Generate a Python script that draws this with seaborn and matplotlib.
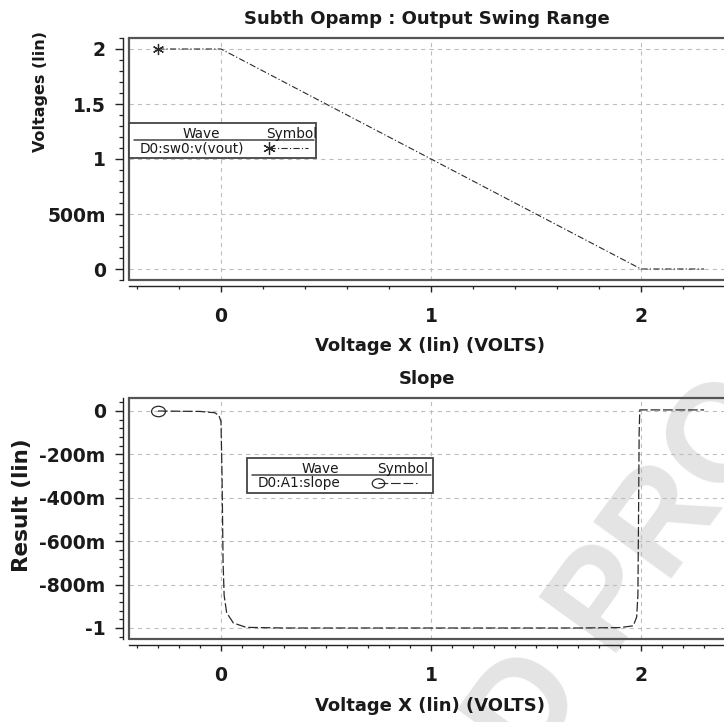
import numpy as np
import pandas as pd
import matplotlib
matplotlib.use("Agg")
import matplotlib.pyplot as plt
import matplotlib.transforms as mtransforms
from matplotlib.path import Path
from matplotlib.lines import Line2D
from matplotlib.patches import Rectangle
from matplotlib.ticker import MultipleLocator
import seaborn as sns

# ---------------- data ----------------
vout_x = [-0.3, 0.0, 2.0, 2.3]
vout_y = [2.0, 2.0, 0.0, 0.0]

slope_x = [-0.3, -0.1, -0.03, -0.01, 0.0, 0.005, 0.01, 0.015, 0.027, 0.059, 0.12, 0.3,
           1.7, 1.9, 1.963, 1.979, 1.985, 1.988, 1.991, 1.994, 2.1, 2.3]
slope_y = [0.0, -0.002, -0.008, -0.02, -0.05, -0.3, -0.7, -0.85, -0.93, -0.977, -0.997, -1.0,
           -1.0, -0.998, -0.99, -0.95, -0.85, -0.5, -0.1, 0.005, 0.005, 0.005]

x_ticks = [0, 1, 2]
x_tick_labels = ["0", "1", "2"]
top_yticks = [0, 0.5, 1, 1.5, 2]
top_ylabels = ["0", "500m", "1", "1.5", "2"]
bot_yticks = [-1, -0.8, -0.6, -0.4, -0.2, 0]
bot_ylabels = ["-1", "-800m", "-600m", "-400m", "-200m", "0"]

top_title = "Subth Opamp : Output Swing Range"
bot_title = "Slope"
x_label = "Voltage X (lin) (VOLTS)"
top_ylabel = "Voltages (lin)"
bot_ylabel = "Result (lin)"
top_wave = "D0:sw0:v(vout)"
bot_wave = "D0:A1:slope"

df_top = pd.DataFrame({"x": vout_x, "y": vout_y})
df_bot = pd.DataFrame({"x": slope_x, "y": slope_y})

# ---------------- style ----------------
sns.set_theme(style="white")
plt.rcParams["font.family"] = ["DejaVu Sans"]
plt.rcParams["lines.scale_dashes"] = False

W, H = 724, 722
fig = plt.figure(figsize=(W / 100, H / 100), dpi=100)
fig.patch.set_facecolor("white")


def fr(l, t, r, b):
    return [l / W, 1 - b / H, (r - l) / W, (b - t) / H]


ax1 = fig.add_axes(fr(129, 38, 724, 280))
ax2 = fig.add_axes(fr(129, 398, 724, 639))

DASHDOT = (0, (4.5, 1.6, 0.9, 1.6))
DASHED = (0, (7, 2))
LC = "#2a2a2a"
TC = "#1a1a1a"
ell = Path.unit_circle().transformed(mtransforms.Affine2D().scale(1, 0.75))

sns.lineplot(data=df_top, x="x", y="y", ax=ax1, color=LC, lw=0.8, linestyle=DASHDOT,
             marker=(6, 2, 0), markevery=[0], markersize=8, markeredgecolor=LC,
             markeredgewidth=0.9, markerfacecolor="none", errorbar=None)
sns.lineplot(data=df_bot, x="x", y="y", ax=ax2, color=LC, lw=0.9, linestyle=DASHED,
             marker=ell, markevery=[0], markersize=10, markeredgecolor=LC,
             markeredgewidth=0.9, markerfacecolor="none", errorbar=None)


def style(ax, ylim, yt, yl, xminor, yminor, title, ylabel, ylab_size, ylab_xy, xlab_xy):
    ax.set_facecolor("none")
    ax.set_xlim(-0.438, 2.395)
    ax.set_ylim(*ylim)
    ax.set_xticks(x_ticks, x_tick_labels)
    ax.set_yticks(yt, yl)
    ax.xaxis.set_minor_locator(MultipleLocator(xminor))
    ax.yaxis.set_minor_locator(MultipleLocator(yminor))
    ax.grid(True, which="major", color="#bdbdbd", lw=0.8, ls=(0, (3, 3)))
    for s in ["left", "bottom"]:
        ax.spines[s].set_position(("outward", 4))
        ax.spines[s].set_color("#222222")
        ax.spines[s].set_linewidth(1.0)
    ax.spines["right"].set_visible(False)
    ax.spines["top"].set_color("#555555")
    ax.spines["top"].set_linewidth(1.6)
    for xs, ys in [([0, 0], [0, 1]), ([0, 1], [0, 0])]:
        ax.add_line(Line2D(xs, ys, transform=ax.transAxes, color="#555555", lw=1.6,
                           clip_on=False))
    ax.tick_params(axis="y", which="major", direction="out", left=True, length=5.8,
                   width=1, pad=7.0, labelsize=13.5, color="#222222", labelcolor=TC)
    ax.tick_params(axis="y", which="minor", direction="out", left=True, length=2.9,
                   width=0.9, color="#222222")
    ax.tick_params(axis="x", which="major", direction="out", bottom=True, length=4.3,
                   width=1, pad=11, labelsize=13.5, color="#222222", labelcolor=TC)
    ax.tick_params(axis="x", which="minor", direction="out", bottom=True, length=2.2,
                   width=0.9, color="#222222")
    for lab in ax.get_xticklabels() + ax.get_yticklabels():
        lab.set_fontweight("bold")
    ax.set_title(title, fontsize=13, fontweight="bold", pad=10, color=TC)
    ax.set_ylabel(ylabel, fontsize=ylab_size, fontweight="bold", color=TC)
    ax.yaxis.set_label_coords(*ylab_xy)
    ax.yaxis.label.set_va("center")
    ax.set_xlabel(x_label, fontsize=13, fontweight="bold", color=TC)
    ax.xaxis.set_label_coords(*xlab_xy)
    ax.xaxis.label.set_va("center")


style(ax1, (-0.1, 2.1), top_yticks, top_ylabels, 0.2, 0.1, top_title, top_ylabel, 11.5,
      ((40 - 129) / 595, (280 - 92) / 242), ((430 - 129) / 595, (280 - 346) / 242))
style(ax2, (-1.0507, 0.0599), bot_yticks, bot_ylabels, 0.1, 0.04, bot_title, bot_ylabel, 15.5,
      ((22 - 129) / 595, (639 - 505) / 241), ((430 - 129) / 595, (639 - 706) / 241))

# ---------------- legend boxes (pixel layout) ----------------
pxT = mtransforms.Affine2D().scale(1, -1).translate(0, H)


def legend_box(l, t, r, b, hy, head_base, wave_cx, sym_cx, row_base, text_x, label,
               sx0, sx1, sy, marker, ms, ls):
    fig.add_artist(Rectangle((l, t), r - l, b - t, transform=pxT, fill=True,
                             facecolor="white", edgecolor="#444444", lw=1.3, zorder=5))
    fig.add_artist(Line2D([l + 5, r - 2], [hy, hy], transform=pxT, color="#444444",
                          lw=1.1, zorder=6))
    kw = dict(transform=pxT, fontsize=9.8, fontweight="normal", color=TC,
              va="baseline", zorder=7)
    fig.text(wave_cx, head_base, "Wave", ha="center", **kw)
    fig.text(sym_cx, head_base, "Symbol", ha="center", **kw)
    fig.text(text_x, row_base, label, ha="left", **kw)
    fig.add_artist(Line2D([sx0, sx1], [sy, sy], transform=pxT, color=LC, lw=0.8,
                          linestyle=ls, zorder=7))
    fig.add_artist(Line2D([sx0], [sy], transform=pxT, color=LC, marker=marker,
                          markersize=ms, markerfacecolor="none", markeredgecolor=LC,
                          markeredgewidth=0.9, lw=0, zorder=8))


legend_box(129, 123, 316, 158, 140, 137.7, 201, 292, 152.3, 140, top_wave,
           269, 308, 148, (6, 2, 0), 9, DASHDOT)
legend_box(247, 458, 433, 493, 475, 472.7, 320, 403, 487.3, 258, bot_wave,
           377.5, 417, 483, ell, 9, DASHED)

# ---------------- watermark ----------------
fig.text(399 / W, 1 - 892 / H, "UNCORRECTED PROOF", rotation=54, rotation_mode="anchor",
         fontsize=100, fontweight="bold", color="#e4e4e4", ha="center", va="center",
         family=["Liberation Sans", "DejaVu Sans"], zorder=-10)

fig.savefig("out.png", dpi=100, facecolor="white")
